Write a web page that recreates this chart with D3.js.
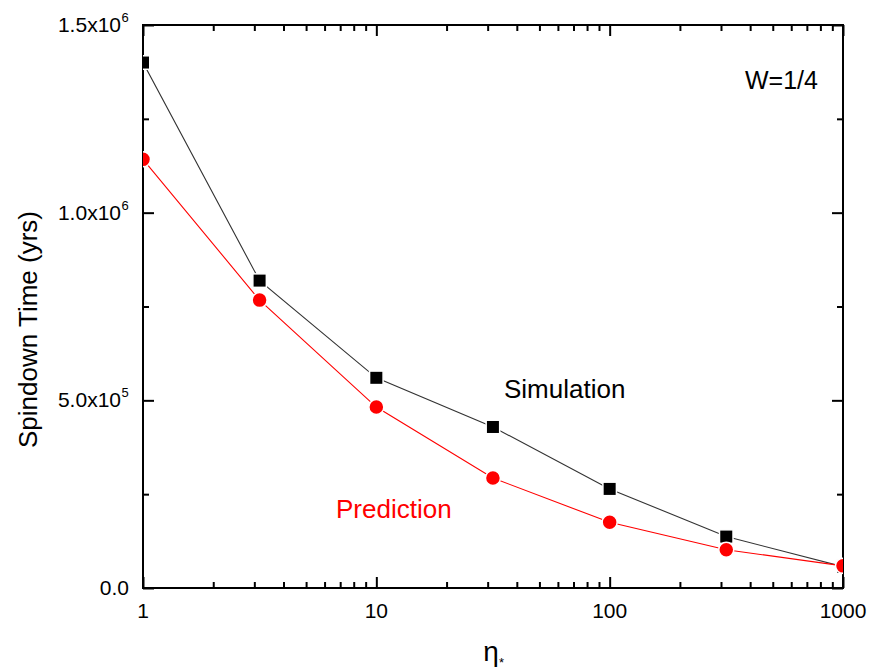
<!DOCTYPE html>
<html>
<head>
<meta charset="utf-8">
<script src="https://cdn.jsdelivr.net/npm/d3@7"></script>
<style>
  body { margin: 0; background: #fff; }
  svg { display: block; font-family: "Liberation Sans", Arial, sans-serif; }
</style>
</head>
<body>
<svg id="chart" width="871" height="672"></svg>
<script>
const eta = [1, 3.16, 10, 31.6, 100, 316, 1000];
const simulation = [1.40e6, 0.819e6, 0.560e6, 0.429e6, 0.264e6, 0.137e6, 0.057e6];
const prediction = [1.142e6, 0.767e6, 0.482e6, 0.293e6, 0.175e6, 0.102e6, 0.059e6];
const xMajor = [1, 10, 100, 1000];
const yMajor = [0, 0.5e6, 1.0e6, 1.5e6];
const yMinor = [0.25e6, 0.75e6, 1.25e6];

const width = 871;
const height = 672;
const margin = { top: 25, right: 28, bottom: 84, left: 143 };
const innerWidth = width - margin.left - margin.right;
const innerHeight = height - margin.top - margin.bottom;

const svg = d3.select("#chart");

svg.append("defs")
  .append("clipPath")
    .attr("id", "plot-clip")
  .append("rect")
    .attr("width", innerWidth)
    .attr("height", innerHeight);

const innerChart = svg.append("g")
  .attr("transform", `translate(${margin.left},${margin.top})`);

const xScale = d3.scaleLog()
  .domain([1, 1000])
  .range([0, innerWidth]);

const yScale = d3.scaleLinear()
  .domain([0, 1.5e6])
  .range([innerHeight, 0]);

const xMinor = xScale.ticks().filter(d => !xMajor.includes(d));

// Axes: ticks only, pointing inward, mirrored on top/right
const styleAxis = g => {
  g.select(".domain").remove();
  g.selectAll(".tick text").remove();
  g.selectAll(".tick line").attr("stroke", "#000").attr("stroke-width", 2);
};

const addAxis = (axis, ticks, size, transform) => {
  innerChart.append("g")
    .attr("transform", transform)
    .call(axis.tickValues(ticks).tickSize(-size).tickFormat(""))
    .call(styleAxis);
};

addAxis(d3.axisBottom(xScale), xMajor, 11, `translate(0,${innerHeight})`);
addAxis(d3.axisBottom(xScale), xMinor, 6, `translate(0,${innerHeight})`);
addAxis(d3.axisTop(xScale), xMajor, 11, "translate(0,0)");
addAxis(d3.axisTop(xScale), xMinor, 6, "translate(0,0)");
addAxis(d3.axisLeft(yScale), yMajor, 11, "translate(0,0)");
addAxis(d3.axisLeft(yScale), yMinor, 6, "translate(0,0)");
addAxis(d3.axisRight(yScale), yMajor, 11, `translate(${innerWidth},0)`);
addAxis(d3.axisRight(yScale), yMinor, 6, `translate(${innerWidth},0)`);

// Frame
innerChart.append("rect")
  .attr("width", innerWidth)
  .attr("height", innerHeight)
  .attr("fill", "none")
  .attr("stroke", "#000")
  .attr("stroke-width", 2);

// Tick labels (placed in page coordinates)
svg.append("g")
  .selectAll("text")
  .data(xMajor)
  .join("text")
    .attr("x", d => margin.left + xScale(d))
    .attr("y", margin.top + innerHeight + 30)
    .attr("text-anchor", "middle")
    .attr("font-size", 21)
    .attr("fill", "#000")
    .text(d => d3.format("d")(d));

const expOf = d => String(Math.floor(Math.log10(d)));
const mantOf = d => d === 0
  ? "0.0"
  : `${(d / Math.pow(10, Math.floor(Math.log10(d)))).toFixed(1)}x10`;

svg.append("g")
  .selectAll("text")
  .data(yMajor)
  .join("text")
    .attr("x", d => margin.left - (d === 0 ? 14 : 22))
    .attr("y", d => margin.top + yScale(d) + 7)
    .attr("text-anchor", "end")
    .attr("font-size", 21)
    .attr("fill", "#000")
    .text(mantOf);

svg.append("g")
  .selectAll("text")
  .data(yMajor.filter(d => d !== 0))
  .join("text")
    .attr("x", margin.left - 21.5)
    .attr("y", d => margin.top + yScale(d) - 3)
    .attr("font-size", 13)
    .attr("fill", "#000")
    .text(expOf);

// Series
const simData = eta.map((e, i) => ({ x: e, y: simulation[i] }));
const predData = eta.map((e, i) => ({ x: e, y: prediction[i] }));

const line = d3.line()
  .x(d => xScale(d.x))
  .y(d => yScale(d.y));

const plot = innerChart.append("g")
  .attr("clip-path", "url(#plot-clip)");

plot.append("path")
  .datum(simData)
  .attr("d", line)
  .attr("fill", "none")
  .attr("stroke", "#333")
  .attr("stroke-width", 1.1);

plot.append("path")
  .datum(predData)
  .attr("d", line)
  .attr("fill", "none")
  .attr("stroke", "#ff0000")
  .attr("stroke-width", 1.1);

const sq = 13.5;
plot.selectAll(".sim")
  .data(simData)
  .join("rect")
    .attr("class", "sim")
    .attr("x", d => xScale(d.x) - sq / 2)
    .attr("y", d => yScale(d.y) - sq / 2)
    .attr("width", sq)
    .attr("height", sq)
    .attr("fill", "#000")
    .attr("stroke", "#fff")
    .attr("stroke-width", 1.5);

plot.selectAll(".pred")
  .data(predData)
  .join("circle")
    .attr("class", "pred")
    .attr("cx", d => xScale(d.x))
    .attr("cy", d => yScale(d.y))
    .attr("r", 7.5)
    .attr("fill", "#ff0000")
    .attr("stroke", "#fff")
    .attr("stroke-width", 1.5);

// Annotations
svg.append("text")
  .attr("x", 504)
  .attr("y", 398)
  .attr("fill", "#000")
  .attr("font-size", 26)
  .text("Simulation");

svg.append("text")
  .attr("x", 336)
  .attr("y", 518)
  .attr("fill", "#ff0000")
  .attr("font-size", 26)
  .text("Prediction");

svg.append("text")
  .attr("x", 745)
  .attr("y", 89)
  .attr("fill", "#000")
  .attr("font-size", 25)
  .text("W=1/4");

// Axis titles
svg.append("text")
  .attr("transform", `translate(37,${margin.top + innerHeight / 2 + 23}) rotate(-90)`)
  .attr("text-anchor", "middle")
  .attr("fill", "#000")
  .attr("font-size", 26)
  .text("Spindown Time (yrs)");

svg.append("text")
  .attr("x", margin.left + innerWidth / 2 - 2)
  .attr("y", 661)
  .attr("text-anchor", "middle")
  .attr("fill", "#000")
  .attr("font-size", 28)
  .text("η");

svg.append("text")
  .attr("x", margin.left + innerWidth / 2 + 6)
  .attr("y", 667)
  .attr("fill", "#000")
  .attr("font-size", 13)
  .text("*");
</script>
</body>
</html>
